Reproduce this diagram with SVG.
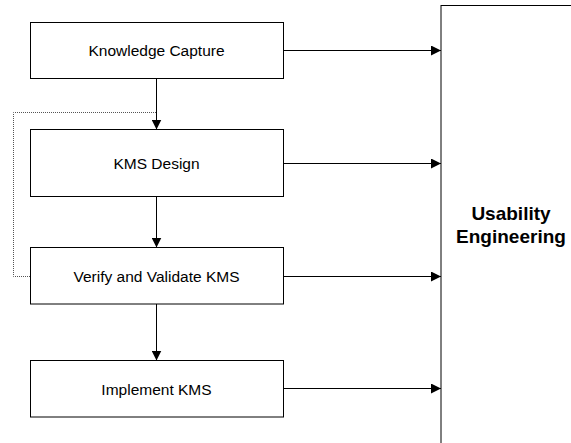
<svg xmlns="http://www.w3.org/2000/svg" width="571" height="443" viewBox="0 0 571 443">
  <style>
    .box { fill: #ffffff; stroke: #000000; stroke-width: 1; }
    .label { font-family: "Liberation Sans", Arial, sans-serif; font-size: 15.5px; fill: #000000; text-anchor: middle; }
    .title { font-family: "Liberation Sans", Arial, sans-serif; font-size: 19px; font-weight: bold; fill: #000000; text-anchor: middle; }
    .flow { fill: none; stroke: #000000; stroke-width: 1; }
    .loop { fill: none; stroke: #555555; stroke-width: 1; stroke-dasharray: 1 1; }
  </style>
  <defs>
    <marker id="arrow" viewBox="0 0 10 10" refX="10" refY="5" markerWidth="10" markerHeight="10" markerUnits="userSpaceOnUse" orient="auto">
      <path d="M0,0 L10,5 L0,10 Z" fill="#000000"/>
    </marker>
  </defs>

  <rect width="571" height="443" fill="#ffffff"/>

  <!-- Usability Engineering panel (extends past the right and bottom edges) -->
  <g id="usability-engineering">
    <line x1="441" y1="5.5" x2="571" y2="5.5" stroke="#000000" stroke-width="1"/>
    <line x1="441" y1="5" x2="441" y2="443" stroke="#000000" stroke-width="1"/>
    <text class="title" x="511" y="220">Usability</text>
    <text class="title" x="511" y="243">Engineering</text>
  </g>

  <!-- Process steps -->
  <g id="knowledge-capture">
    <rect class="box" x="30.5" y="22.5" width="253" height="56"/>
    <text class="label" x="156.5" y="55.5">Knowledge Capture</text>
  </g>
  <g id="kms-design">
    <rect class="box" x="30.5" y="129.5" width="253" height="67"/>
    <text class="label" x="156.5" y="168.5">KMS Design</text>
  </g>
  <g id="verify-validate">
    <rect class="box" x="30.5" y="247.5" width="253" height="56.5"/>
    <text class="label" x="156.5" y="281.5">Verify and Validate KMS</text>
  </g>
  <g id="implement-kms">
    <rect class="box" x="30.5" y="360.5" width="253" height="56.5"/>
    <text class="label" x="156.5" y="394.5">Implement KMS</text>
  </g>

  <!-- Connectors -->
  <g id="connectors">
    <!-- sequence between steps -->
    <line class="flow" x1="156.5" y1="78.5" x2="156.5" y2="129.5" marker-end="url(#arrow)"/>
    <line class="flow" x1="156.5" y1="196.5" x2="156.5" y2="247.5" marker-end="url(#arrow)"/>
    <line class="flow" x1="156.5" y1="304" x2="156.5" y2="360.5" marker-end="url(#arrow)"/>
    <!-- feedback loop from verification back to design -->
    <polyline class="loop" points="30,276.5 13.5,276.5 13.5,112.5 156.5,112.5"/>
    <!-- each step feeds usability engineering -->
    <line class="flow" x1="283.5" y1="50.5" x2="441" y2="50.5" marker-end="url(#arrow)"/>
    <line class="flow" x1="283.5" y1="163.5" x2="441" y2="163.5" marker-end="url(#arrow)"/>
    <line class="flow" x1="283.5" y1="276.5" x2="441" y2="276.5" marker-end="url(#arrow)"/>
    <line class="flow" x1="283.5" y1="388.5" x2="441" y2="388.5" marker-end="url(#arrow)"/>
  </g>
</svg>
